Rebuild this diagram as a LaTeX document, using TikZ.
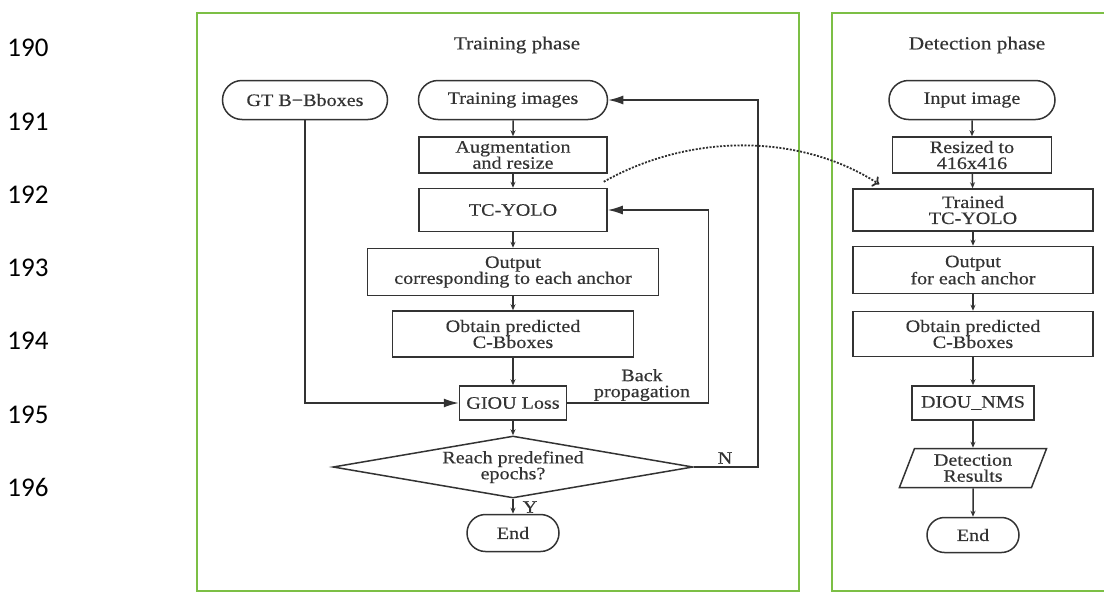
\documentclass[tikz,border=0pt]{standalone}
\usepackage{fontspec}
\setmainfont{Liberation Serif}[FakeStretch=1.15, FakeBold=0.4]
\newfontfamily\linenofont{Carlito}
\usetikzlibrary{arrows.meta,shapes.geometric,shapes.misc,calc}
\definecolor{ink}{HTML}{333333}
\definecolor{frame}{HTML}{7CBF45}
\tikzset{
  every picture/.style={line width=1.5pt, draw=ink, text=ink},
  txt/.style={font=\fontsize{17.5}{16}\selectfont, align=center, inner sep=0pt},
  stepbox/.style={txt, draw=ink, rectangle},
  terminal/.style={txt, draw=ink, rounded rectangle},
  decide/.style={txt, draw=ink, diamond},
  io/.style={txt, draw=ink, trapezium, trapezium left angle=70, trapezium right angle=110, trapezium stretches=true},
  title/.style={font=\fontsize{18.5}{22}\selectfont},
  tag/.style={font=\fontsize{17.5}{16}\selectfont, align=center, inner sep=0pt},
  panel/.style={draw=frame, line width=2.5pt},
  flow/.style={-{Stealth[length=6pt,width=5pt]}, draw=ink},
  loop/.style={-{Latex[length=15pt,width=9pt]}, draw=ink},
  jump/.style={dash pattern=on 2pt off 1.5pt, line width=1.8pt, draw=ink!90!black, -{To[length=6pt,width=12pt]}},
  lineno/.style={font=\linenofont\fontsize{27}{30}\selectfont, text=black},
}

\begin{document}
\begin{tikzpicture}[x=1pt, y=-1pt]
\useasboundingbox (0,0) rectangle (1104,592);
% line numbers of the manuscript
\foreach \n [count=\i from 0] in {190,...,196}
  \node[lineno] (ln\n) at (28,{48+73.3*\i}) {\n};
% the two phase panels
\draw[panel] (197,13) rectangle (799,591);
\draw[panel] (1106,13) -- (832,13) -- (832,591) -- (1106,591);
\node[title] (trtitle) at (517,45) {Training phase};
\node[title] (dttitle) at (977,45) {Detection phase};
% training phase
\node[terminal, minimum width=165pt, minimum height=39pt] (gt) at (305,100) {GT B−Bboxes};
\node[terminal, minimum width=189pt, minimum height=39pt] (timg) at (513,100) {Training images};
\node[stepbox, minimum width=188pt, minimum height=36pt] (aug) at (513,155) {Augmentation\\and resize};
\node[stepbox, minimum width=188pt, minimum height=43pt] (yolo) at (513,210) {TC-YOLO};
\node[stepbox, minimum width=291pt, minimum height=47pt] (out) at (513,272) {Output\\corresponding to each anchor};
\node[stepbox, minimum width=241pt, minimum height=46pt] (pred) at (513,334) {Obtain predicted\\C-Bboxes};
\node[stepbox, minimum width=107pt, minimum height=34pt] (giou) at (513,403) {GIOU Loss};
\node[decide, minimum width=360pt, minimum height=62pt, shape aspect=5] (reach) at (513,467) {Reach predefined\\epochs?};
\node[terminal, minimum width=92pt, minimum height=37pt] (tend) at (513,533) {End};
\draw[flow] (timg) -- (aug);
\draw[flow] (aug) -- (yolo);
\draw[flow] (yolo) -- (out);
\draw[flow] (out) -- (pred);
\draw[flow] (pred) -- (giou);
\draw[flow] (giou) -- (reach);
\draw[flow] (reach) -- (tend);
\draw[loop] (gt.south) |- (giou.west);
\draw[loop] (giou.east) -- ++(141,0) |- (yolo.east);
\draw[loop] (reach.east) -- ++(64,0) |- (timg.east);
\node[tag] (bp) at (642,385) {Back\\propagation};
\node[tag] (no) at (725,458) {N};
\node[tag] (yes) at (530,507) {Y};
% detection phase
\node[terminal, minimum width=166pt, minimum height=39pt] (inimg) at (972,100) {Input image};
\node[stepbox, minimum width=159pt, minimum height=36pt] (rsz) at (972,155) {Resized to\\416x416};
\node[stepbox, minimum width=240pt, minimum height=42pt] (trained) at (973,210) {Trained\\TC-YOLO};
\node[stepbox, minimum width=240pt, minimum height=47pt] (dout) at (973,270) {Output\\for each anchor};
\node[stepbox, minimum width=240pt, minimum height=45pt] (dpred) at (973,334) {Obtain predicted\\C-Bboxes};
\node[stepbox, minimum width=122pt, minimum height=34pt] (nms) at (973,403) {DIOU\_NMS};
\node[io, minimum width=148pt, minimum height=39pt] (dres) at (973,468) {Detection\\Results};
\node[terminal, minimum width=92pt, minimum height=35pt] (dend) at (973,535) {End};
\draw[flow] (inimg) -- (rsz);
\draw[flow] (rsz) -- (trained);
\draw[flow] (trained) -- (dout);
\draw[flow] (dout) -- (dpred);
\draw[flow] (dpred) -- (nms);
\draw[flow] (nms) -- (dres);
\draw[flow] (dres) -- (dend);
% trained model handed over
\coordinate (hand) at ($(yolo.north east)+(-4,-6)$);
\coordinate (take) at ($(trained.north west)+(27,-4)$);
\draw[jump] (hand) .. controls (690,133) and (800,133) .. (take);
\end{tikzpicture}
\end{document}
